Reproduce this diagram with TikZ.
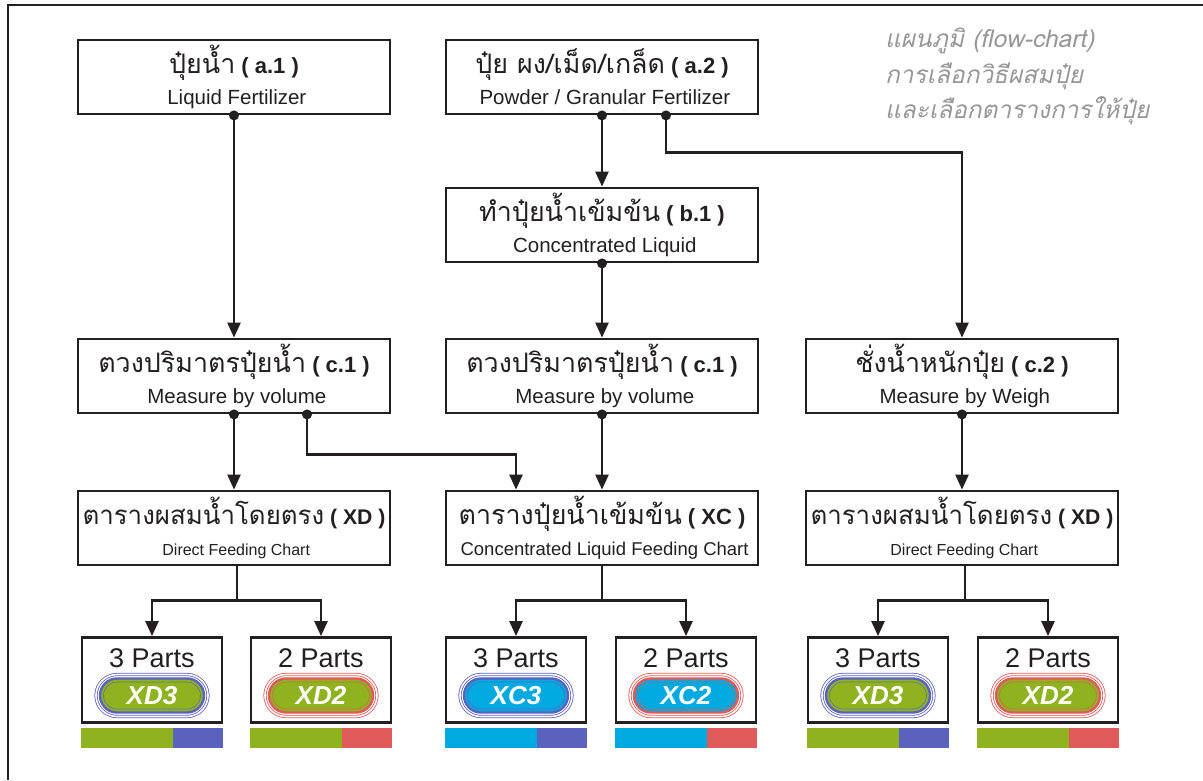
\documentclass[tikz,border=0pt]{standalone}
\usepackage{fontspec}
\usetikzlibrary{arrows.meta,positioning,shapes.misc}
\setmainfont{Liberation Sans}
\newfontfamily\thai[Script=Thai,Scale=1.22]{Loma}
\newcommand\engsub[1]{\fontsize{#1}{31}\selectfont}

\definecolor{ink}{HTML}{231F20}
\definecolor{leaf}{HTML}{8FB21F}
\definecolor{sky}{HTML}{00A9E0}
\definecolor{ringthree}{HTML}{5A62BE}
\definecolor{ringtwo}{HTML}{E05A5A}
\definecolor{notegray}{HTML}{969696}

\tikzset{
	stage/.style={draw=ink, line width=2.8pt, minimum width=312pt, minimum height=74pt,
		align=center, inner sep=0pt, text=ink, font=\fontsize{22}{31}\selectfont},
	partbox/.style={draw=ink, line width=2.8pt, minimum width=140pt, minimum height=85pt, inner sep=0pt},
	partlabel/.style={anchor=base, inner sep=0pt, text=ink, font=\fontsize{27}{27}\selectfont},
	halo/.style={rounded rectangle, draw=#1, line width=0.8pt, double=white, double distance=1.6pt,
		minimum width=112pt, minimum height=42pt, inner sep=0pt},
	pill/.style={rounded rectangle, draw=#1, line width=2.4pt, minimum width=104pt, minimum height=34pt,
		inner sep=0pt, text=white, font=\fontsize{26}{26}\selectfont\bfseries\itshape},
	core/.style={rounded rectangle, draw=#1, line width=0.7pt, minimum width=97pt, minimum height=27pt, inner sep=0pt},
	dot/.style={circle, fill=ink, inner sep=0pt, minimum size=10pt},
	flow/.style={draw=ink, line width=2.4pt, -{Triangle[length=15pt,width=13pt]}},
	joint/.style={draw=ink, line width=2.4pt},
	note/.style={align=left, inner sep=0pt, text=notegray, font=\thai\itshape\fontsize{20}{35.5}\selectfont},
}

\begin{document}
\begin{tikzpicture}[x=1pt,y=-1pt]
	\useasboundingbox (0,0) rectangle (1203,780);
	\draw[ink, line width=2.5pt] (8,780) -- (8,5) -- (1203,5);
	
	% title
	\node[note, anchor=north west] (title) at (885,28) {แผนภูมิ (flow-chart)\\การเลือกวิธีผสมปุ๋ย\\และเลือกตารางการให้ปุ๋ย};
	
	% boxes
	\node[stage] (a1) at (234,77) {{\thai ปุ๋ยน้ำ} \textbf{( a.1 )}\\{\engsub{20.5} Liquid Fertilizer}};
	\node[stage] (a2) at (602,77) {{\thai ปุ๋ย ผง/เม็ด/เกล็ด} \textbf{( a.2 )}\\{\engsub{20.5} Powder / Granular Fertilizer}};
	\node[stage] (b1) at (602,225) {{\thai ทำปุ๋ยน้ำเข้มข้น} \textbf{( b.1 )}\\{\engsub{20.5} Concentrated Liquid}};
	\node[stage] (c1a) at (234,376) {{\thai ตวงปริมาตรปุ๋ยน้ำ} \textbf{( c.1 )}\\{\engsub{20.5} Measure by volume}};
	\node[stage] (c1b) at (602,376) {{\thai ตวงปริมาตรปุ๋ยน้ำ} \textbf{( c.1 )}\\{\engsub{20.5} Measure by volume}};
	\node[stage] (c2) at (962,376) {{\thai ชั่งน้ำหนักปุ๋ย} \textbf{( c.2 )}\\{\engsub{20.5} Measure by Weigh}};
	\node[stage, font=\fontsize{21.2}{31}\selectfont] (xd1) at (234,528) {{\thai ตารางผสมน้ำโดยตรง} \textbf{( XD )}\\{\engsub{16} Direct Feeding Chart}};
	\node[stage] (xc) at (602,528) {{\thai ตารางปุ๋ยน้ำเข้มข้น} \textbf{( XC )}\\{\engsub{18.5} Concentrated Liquid Feeding Chart}};
	\node[stage, font=\fontsize{21.2}{31}\selectfont] (xd2) at (962,528) {{\thai ตารางผสมน้ำโดยตรง} \textbf{( XD )}\\{\engsub{16} Direct Feeding Chart}};
	
	% parts, badges and bars
	\foreach \n/\cx/\num/\base/\ring/\code in {p1/152/3/leaf/ringthree/XD3, p2/321/2/leaf/ringtwo/XD2,
		p3/516/3/sky/ringthree/XC3, p4/686/2/sky/ringtwo/XC2, p5/878/3/leaf/ringthree/XD3, p6/1048/2/leaf/ringtwo/XD2}{
		\node[partbox] (\n) at (\cx,680) {};
		\node[partlabel] (\n-t) at (\cx,667) {\num\ Parts};
		\node[halo=\ring] (\n-h) at (\cx,695.5) {};
		\node[pill=\ring, fill=\base] (\n-x) at (\cx,695.5) {\code};
		\node[core=\ring!75!\base] (\n-c) at (\cx,695.5) {};
		\fill[\base] ([xshift=-71pt]\n.south) ++(0,4) rectangle ++(92,20);
		\fill[\ring] ([xshift=21pt]\n.south) ++(0,4) rectangle ++(50,20);
	}
	
	% dots
	\node[dot] (dA1) at (a1.south) {};
	\node[dot] (dA2) at (a2.south) {};
	\node[dot] (dA2w) at ([xshift=64pt]a2.south) {};
	\node[dot] (dB1) at (b1.south) {};
	\node[dot] (dC1a) at (c1a.south) {};
	\node[dot] (dC1x) at ([xshift=73pt]c1a.south) {};
	\node[dot] (dC1b) at (c1b.south) {};
	\node[dot] (dC2) at (c2.south) {};
	
	% connectors
	\draw[flow] (dA1.center) -- (c1a);
	\draw[flow] (dA2.center) -- (b1);
	\draw[flow] (dA2w.center) -- ++(0,37) -| (c2);
	\draw[flow] (dB1.center) -- (c1b);
	\draw[flow] (dC1a.center) -- (xd1);
	\draw[flow] (dC1x.center) -- ++(0,40) -| ([xshift=-86pt]xc.north);
	\draw[flow] (dC1b.center) -- (xc);
	\draw[flow] (dC2.center) -- (xd2);
	
	% chart to parts
	\draw[joint] ([xshift=3pt]xd1.south) -- ++(0,34) coordinate (s1);
	\draw[flow] (s1) -| (p1);
	\draw[flow] (s1) -| (p2);
	\draw[joint] (xc.south) -- ++(0,34) coordinate (s2);
	\draw[flow] (s2) -| (p3);
	\draw[flow] (s2) -| (p4);
	\draw[joint] ([xshift=3pt]xd2.south) -- ++(0,34) coordinate (s3);
	\draw[flow] (s3) -| (p5);
	\draw[flow] (s3) -| (p6);
\end{tikzpicture}
\end{document}
